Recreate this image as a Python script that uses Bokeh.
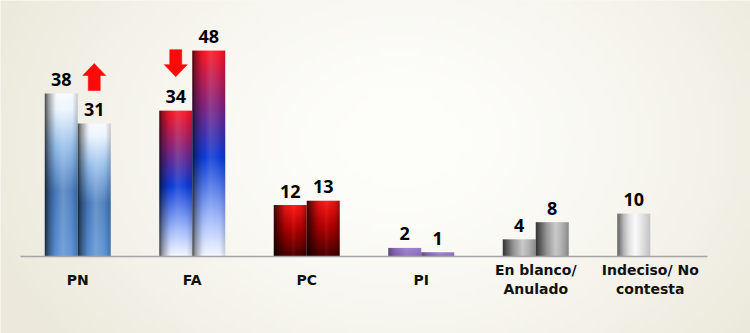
import numpy as np
from bokeh.plotting import figure
from bokeh.models import Range1d
from bokeh.core.properties import value
from bokeh.embed import file_html
from bokeh.resources import INLINE

# ---------------- data ----------------
categories = ["PN", "FA", "PC", "PI", "En blanco/\nAnulado", "Indeciso/ No\ncontesta"]
series_a = [38, 34, 12, 2, 4, 10]
series_b = [31, 48, 13, 1, 8, None]
# (category index, series index, direction) of the change arrows
arrow_marks = [(0, 1, "up"), (1, 0, "down")]

# ---------------- layout ----------------
W, H = 750, 333
PX_CAT = 114.5          # px per category
X0_PX = 77.25           # px of first category centre
BASE_PX = 256           # px of baseline from top
PXU = 4.29              # px per percentage unit
BAR_W = 33 / PX_CAT     # bar width in category units
DX = 1 / PX_CAT         # one px in x units
DY = 1 / PXU            # one px in y units

x_start = -X0_PX / PX_CAT
x_end = (W - X0_PX) / PX_CAT
y_start = -(H - BASE_PX) / PXU
y_end = BASE_PX / PXU

p = figure(width=W, height=H, output_backend="svg", toolbar_location=None,
           x_range=Range1d(x_start, x_end), y_range=Range1d(y_start, y_end),
           min_border=0, min_border_left=0, min_border_right=0,
           min_border_top=0, min_border_bottom=0)
p.axis.visible = False
p.grid.visible = False
p.outline_line_color = None
p.background_fill_color = "#F4F2EA"
p.border_fill_color = "#F4F2EA"


def to_rgba(arr):
    rows, cols, _ = arr.shape
    img = np.empty((rows, cols), dtype=np.uint32)
    v = img.view(dtype=np.uint8).reshape((rows, cols, 4))
    v[:, :, :3] = np.clip(arr, 0, 255).astype(np.uint8)
    v[:, :, 3] = 255
    return img


# ---------------- background radial gradient ----------------
bw, bh = 150, 67
gx = (np.arange(bw) + 0.5) / bw * W
gy = (np.arange(bh) + 0.5) / bh * H           # from bottom
gy_top = H - gy
XX, YY = np.meshgrid(gx, gy_top)
d = np.sqrt(((XX - 400) / 430) ** 2 + ((YY - 140) / 320) ** 2)
t = np.clip(d, 0, 1) ** 1.6
c_in = np.array([254, 254, 251])
c_out = np.array([236, 233, 220])
bg = c_in[None, None, :] * (1 - t[..., None]) + c_out[None, None, :] * t[..., None]
p.image_rgba(image=[to_rgba(bg)], x=x_start, y=y_start, dw=x_end - x_start,
             dh=y_end - y_start, level="image")

# ---------------- bar styles ----------------
STYLES = {
    "pn": dict(v=[(0, (90, 146, 212)), (0.4, (74, 124, 190)), (0.68, (150, 190, 235)),
                  (0.9, (236, 244, 253)), (1.0, (248, 251, 255))],
               h=([0, 0.1, 0.3, 0.55, 0.8, 1.0], [-0.72, -0.4, -0.05, 0.18, 0.05, -0.2])),
    "fa": dict(v=[(0, (245, 248, 255)), (0.18, (160, 185, 250)), (0.48, (12, 60, 215)),
                  (0.75, (140, 35, 120)), (1.0, (255, 22, 35))],
               h=([0, 0.1, 0.3, 0.55, 0.8, 1.0], [-0.7, -0.35, -0.05, 0.12, 0.03, -0.15])),
    "pc": dict(v=[(0, (70, 0, 0)), (0.5, (175, 0, 0)), (1.0, (255, 25, 25))],
               h=([0, 0.15, 0.35, 0.6, 0.85, 1.0], [-0.75, -0.45, -0.1, 0.05, -0.1, -0.35])),
    "pi": dict(v=[(0, (135, 105, 185)), (1.0, (150, 122, 200))],
               h=([0, 0.2, 0.55, 1.0], [-0.35, -0.1, 0.12, 0.0])),
    "gray": dict(v=[(0, (145, 145, 145)), (1.0, (152, 152, 152))],
                 h=([0, 0.15, 0.35, 0.6, 0.8, 1.0], [-0.65, -0.35, 0.05, 0.5, 0.25, -0.1])),
    "light": dict(v=[(0, (175, 175, 175)), (1.0, (182, 182, 182))],
                  h=([0, 0.15, 0.35, 0.55, 0.8, 1.0], [-0.45, -0.1, 0.6, 0.95, 0.55, 0.2])),
}
cat_style = ["pn", "fa", "pc", "pi", "gray", "light"]


def bar_image(h_px, style):
    st = STYLES[style]
    rows = max(2, int(round(h_px)))
    cols = 33
    tt = (np.arange(rows) + 0.5) / rows
    ts = [s[0] for s in st["v"]]
    base = np.stack([np.interp(tt, ts, [s[1][c] for s in st["v"]]) for c in range(3)], axis=-1)
    xs = (np.arange(cols) + 0.5) / cols
    sh = np.interp(xs, st["h"][0], st["h"][1])
    base = base[:, None, :]
    sh = sh[None, :, None]
    col = np.where(sh < 0, base * (1 + sh), base + (255 - base) * sh)
    return to_rgba(col)


# ---------------- bars ----------------
lab_x, lab_y, lab_t = [], [], []
for i, style in enumerate(cat_style):
    for s, series in enumerate([series_a, series_b]):
        val = series[i]
        if val is None:
            continue
        left = i - BAR_W + s * BAR_W
        p.image_rgba(image=[bar_image(val * PXU, style)], x=left, y=0, dw=BAR_W, dh=val)
        lab_x.append(left + BAR_W / 2)
        lab_y.append(val)
        lab_t.append(str(val))

# baseline
p.segment(x0=[-0.5], y0=[0], x1=[len(categories) - 0.5], y1=[0],
          line_color="#A4A4A4", line_width=1.6)

# value labels
p.text(x=lab_x, y=lab_y, text=lab_t, text_align="center", text_baseline="alphabetic",
       y_offset=-14, text_font=value("Noto Sans"), text_font_style="bold",
       text_font_size="18px", text_color="#000000")

# category labels
p.text(x=list(range(len(categories))), y=[-23 * DY] * len(categories), text=categories,
       text_align="center", text_baseline="middle", text_font=value("DejaVu Sans"),
       text_font_style="bold", text_font_size="14px", text_color="#111111",
       text_line_height=1.15)

# arrows
xs_list, ys_list = [], []
for ci, si, direction in arrow_marks:
    val = [series_a, series_b][si][ci]
    cx = ci - BAR_W + si * BAR_W + BAR_W / 2
    hw, sw = 11.5 * DX, 6 * DX
    if direction == "up":
        base = val + 33 * DY
        tip = val + 60 * DY
        hb = tip - 12 * DY
    else:
        base = val + 61 * DY
        tip = val + 34 * DY
        hb = tip + 12 * DY
    xs_list.append([cx - sw, cx - sw, cx - hw, cx, cx + hw, cx + sw, cx + sw])
    ys_list.append([base, hb, hb, tip, hb, hb, base])
p.patches(xs=xs_list, ys=ys_list, fill_color="#FF0A0A", line_color="#F00000", line_width=0.5)

open("out.html", "w").write(file_html(p, INLINE))
